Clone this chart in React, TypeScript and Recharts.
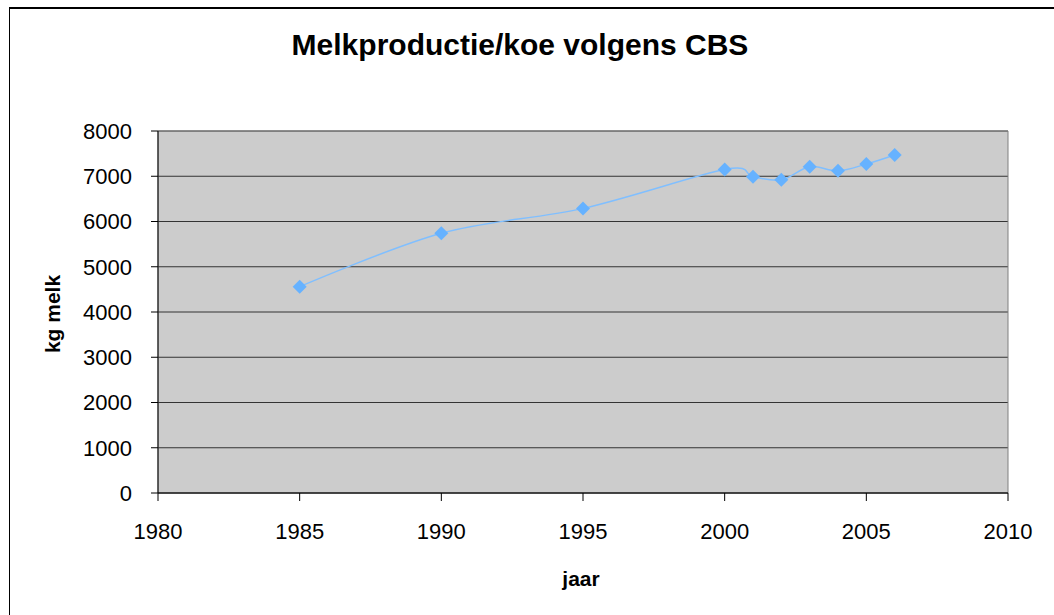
import React from "react";
import {
  LineChart,
  Line,
  XAxis,
  YAxis,
  CartesianGrid,
  ReferenceArea,
} from "recharts";

const years = [1985, 1990, 1995, 2000, 2001, 2002, 2003, 2004, 2005, 2006];
const milkKg = [4560, 5740, 6290, 7150, 6990, 6920, 7210, 7120, 7270, 7470];
const xTicks = [1980, 1985, 1990, 1995, 2000, 2005, 2010];
const yTicks = [0, 1000, 2000, 3000, 4000, 5000, 6000, 7000, 8000];

const data = years.map((y, i) => ({ year: y, kg: milkKg[i] }));

const FONT = '"Liberation Sans", Arial, sans-serif';

// Excel-like smoothed line (cardinal spline, tension 0)
function smoothCurve(context: any) {
  const k = 1 / 6;
  let x0 = NaN, x1 = NaN, x2 = NaN, y0 = NaN, y1 = NaN, y2 = NaN;
  let pt = 0;
  let line: number = NaN;
  const seg = (x: number, y: number) =>
    context.bezierCurveTo(
      x1 + k * (x2 - x0),
      y1 + k * (y2 - y0),
      x2 + k * (x1 - x),
      y2 + k * (y1 - y),
      x2,
      y2
    );
  return {
    areaStart() {
      line = 0;
    },
    areaEnd() {
      line = NaN;
    },
    lineStart() {
      x0 = x1 = x2 = y0 = y1 = y2 = NaN;
      pt = 0;
    },
    lineEnd() {
      if (pt === 2) context.lineTo(x2, y2);
      else if (pt === 3) seg(x1, y1);
      if (line || (line !== 0 && pt === 1)) context.closePath();
      line = 1 - line;
    },
    point(x: number, y: number) {
      x = +x;
      y = +y;
      if (pt === 0) {
        pt = 1;
        if (line) context.lineTo(x, y);
        else context.moveTo(x, y);
      } else if (pt === 1) {
        pt = 2;
        x1 = x;
        y1 = y;
      } else {
        pt = 3;
        seg(x, y);
      }
      x0 = x1; x1 = x2; x2 = x;
      y0 = y1; y1 = y2; y2 = y;
    },
  };
}

const Diamond = (props: any) => {
  const { cx, cy, index } = props;
  if (cx == null || cy == null) return <g key={`d-${index}`} />;
  const r = 7;
  return (
    <path
      key={`d-${index}`}
      d={`M${cx},${cy - r}L${cx + r},${cy}L${cx},${cy + r}L${cx - r},${cy}Z`}
      fill="#66B2FF"
      stroke="none"
    />
  );
};

export default function App() {
  return (
    <div
      style={{
        position: "absolute",
        left: 0,
        top: 0,
        width: 1054,
        height: 615,
        overflow: "hidden",
        background: "#fff",
        fontFamily: FONT,
      }}
    >
      <div
        style={{
          position: "absolute",
          left: 9,
          top: 7,
          width: 1100,
          height: 700,
          borderLeft: "1px solid #000",
          borderTop: "2px solid #000",
          boxSizing: "border-box",
        }}
      />
      <div
        style={{
          position: "absolute",
          left: 0,
          top: 30,
          width: 1040,
          textAlign: "center",
          fontSize: 30,
          lineHeight: "30px",
          fontWeight: "bold",
          color: "#000",
        }}
      >
        Melkproductie/koe volgens CBS
      </div>
      <div
        style={{
          position: "absolute",
          left: 52,
          top: 314,
          transform: "translate(-50%, -50%) rotate(-90deg)",
          fontSize: 21,
          lineHeight: "21px",
          fontWeight: "bold",
          whiteSpace: "nowrap",
          color: "#000",
        }}
      >
        kg melk
      </div>
      <div
        style={{
          position: "absolute",
          left: 581,
          top: 578,
          transform: "translate(-50%, -50%)",
          fontSize: 21,
          lineHeight: "21px",
          fontWeight: "bold",
          whiteSpace: "nowrap",
          color: "#000",
        }}
      >
        jaar
      </div>
      <div style={{ position: "absolute", left: 0, top: 0 }}>
        <LineChart
          width={1054}
          height={615}
          data={data}
          margin={{ top: 131, right: 46, bottom: 62, left: 58 }}
        >
          <CartesianGrid
            vertical={false}
            fill="#CCCCCC"
            stroke="#333333"
            strokeWidth={1}
          />
          <ReferenceArea
            x1={1980}
            x2={2010}
            y1={0}
            y2={8000}
            fill="none"
            stroke="#808080"
            strokeWidth={1}
          />
          <XAxis
            type="number"
            dataKey="year"
            domain={[1980, 2010]}
            ticks={xTicks}
            interval={0}
            height={60}
            tickSize={8}
            tickMargin={22}
            axisLine={{ stroke: "#000", strokeWidth: 1 }}
            tickLine={{ stroke: "#000" }}
            tick={{ fill: "#000", fontSize: 22, fontFamily: FONT }}
            allowDecimals={false}
          />
          <YAxis
            type="number"
            domain={[0, 8000]}
            ticks={yTicks}
            interval={0}
            width={100}
            tickSize={7}
            tickMargin={19}
            axisLine={{ stroke: "#000", strokeWidth: 1 }}
            tickLine={{ stroke: "#000" }}
            tick={{ fill: "#000", fontSize: 22, fontFamily: FONT }}
          />
          <Line
            dataKey="kg"
            type={smoothCurve as any}
            stroke="#80BFFF"
            strokeWidth={1.5}
            dot={Diamond}
            activeDot={false}
            isAnimationActive={false}
          />
        </LineChart>
      </div>
    </div>
  );
}
